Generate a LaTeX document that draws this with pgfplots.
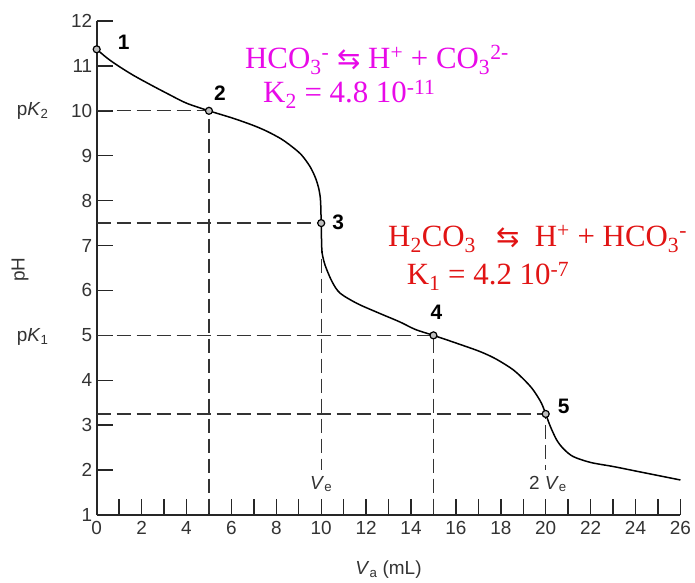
\documentclass[border=0pt]{standalone}
\usepackage{pgfplots}
\pgfplotsset{compat=1.18}
\usepackage{fontspec}
\setmainfont{Liberation Sans}
\newfontfamily\serif{Liberation Serif}
\newfontfamily\dejavu{DejaVu Sans}
\definecolor{mag}{RGB}{232,10,232}
\definecolor{redt}{RGB}{225,20,20}
\begin{document}
\begin{tikzpicture}
\begin{axis}[
  at={(0,0)}, anchor=south west,
  scale only axis, width=583.7bp, height=494bp,
  xmin=0, xmax=26, ymin=1, ymax=12,
  axis x line*=bottom, axis y line*=left,
  axis line style={-, line width=1.6bp, black!85},
  xtick={0,2,...,26}, minor xtick={1,3,...,25},
  ytick={1,...,12},
  xtick pos=bottom, ytick pos=left,
  tick align=inside,
  major tick length=16bp, minor tick length=16bp,
  tick style={line width=1.4bp, black!85},
  ticklabel style={font=\fontsize{19}{21}\selectfont, text=black!80},
  /pgf/number format/assume math mode=true,
  xticklabel style={yshift=-3bp},
  yticklabel style={xshift=-1bp},
  clip=false,
]
% dashed guide lines
\addplot[black!80, line width=1.3bp, dash pattern=on 14bp off 6bp] coordinates {(0,10)(5,10)(5,1)};
\addplot[black!80, line width=1.3bp, dash pattern=on 14bp off 6bp] coordinates {(0,7.5)(10,7.5)(10,2.0)};
\addplot[black!80, line width=1.3bp, dash pattern=on 14bp off 6bp] coordinates {(0,5)(15,5)(15,1)};
\addplot[black!80, line width=1.3bp, dash pattern=on 14bp off 6bp] coordinates {(0,3.25)(20,3.25)(20,2.0)};
% titration curve
\addplot[black, line width=1.5bp, smooth, tension=0.5] coordinates {
(0,11.37)(0.45,11.18)(0.9,11.02)(1.6,10.80)(2.4,10.58)(3.2,10.37)(4.0,10.17)
(5.0,10.00)(6.1,9.83)(7.0,9.67)(7.6,9.54)(8.2,9.38)(8.6,9.24)(9.1,9.03)
(9.5,8.76)(9.75,8.50)(9.9,8.25)(9.97,8.0)(10.0,7.5)(10.03,6.9)(10.12,6.65)
(10.25,6.46)(10.5,6.18)(10.84,5.94)(11.6,5.71)(12.6,5.49)(13.5,5.30)(14.2,5.13)
(15.0,5.0)(16.0,4.83)(17.07,4.64)(17.8,4.47)(18.56,4.23)(19.1,3.98)(19.45,3.78)
(19.8,3.50)(20.0,3.25)(20.2,2.98)(20.49,2.67)(20.8,2.47)(21.23,2.30)(22.0,2.17)
(23.0,2.08)(24.0,1.98)(25.0,1.88)(26.0,1.78)};
% marked points
\addplot[only marks, mark=*, mark size=3.5bp, mark options={fill=gray!50, draw=black, line width=1.2bp}]
  coordinates {(0,11.37)(5,10)(10,7.5)(15,5)(20,3.25)};
% point labels
\node[font=\bfseries\fontsize{21}{22}\selectfont] at (axis cs:0,11.37) [xshift=27bp, yshift=7bp] {1};
\node[font=\bfseries\fontsize{21}{22}\selectfont] at (axis cs:5,10) [xshift=11bp, yshift=18bp] {2};
\node[font=\bfseries\fontsize{21}{22}\selectfont] at (axis cs:10,7.5) [xshift=17bp, yshift=1bp] {3};
\node[font=\bfseries\fontsize{21}{22}\selectfont] at (axis cs:15,5) [xshift=3bp, yshift=23bp] {4};
\node[font=\bfseries\fontsize{21}{22}\selectfont] at (axis cs:20,3.25) [xshift=18bp, yshift=8bp] {5};
% Ve labels
\node[font=\fontsize{19}{21}\selectfont, text=black!80] at (axis cs:10,1.69) {\textit{V}\textsubscript{e}};
\node[font=\fontsize{19}{21}\selectfont, text=black!80] at (axis cs:20.1,1.69) {2 \textit{V}\textsubscript{e}};
\end{axis}
% axis labels
\node[font=\fontsize{19}{21}\selectfont, text=black!80] at (-64bp,404bp) {p\textit{K}\textsubscript{2}};
\node[font=\fontsize{19}{21}\selectfont, text=black!80] at (-64bp,178.3bp) {p\textit{K}\textsubscript{1}};
\node[font=\fontsize{19}{21}\selectfont, text=black!80, rotate=90] at (-76.7bp,245.5bp) {pH};
\node[font=\fontsize{19}{21}\selectfont, text=black!80] at (291.8bp,-55bp) {\textit{V}\textsubscript{a} (mL)};
% equations
\node[anchor=base west, inner sep=0, text=mag, font=\serif\fontsize{31}{34}\selectfont] at (148.3bp,446.5bp)
  {HCO\textsubscript{3}\textsuperscript{-} {\dejavu\fontsize{28}{30}\selectfont ⇆} H\textsuperscript{+} + CO\textsubscript{3}\textsuperscript{2-}};
\node[anchor=base west, inner sep=0, text=mag, font=\serif\fontsize{31}{34}\selectfont] at (166.3bp,412bp)
  {K\textsubscript{2} = 4.8 10\textsuperscript{-11}};
\node[anchor=base west, inner sep=0, text=redt, font=\serif\fontsize{31}{34}\selectfont] at (291.3bp,268.3bp)
  {H\textsubscript{2}CO\textsubscript{3}\hspace{0.4em} {\dejavu\fontsize{28}{30}\selectfont ⇆}\hspace{0.25em} H\textsuperscript{+} + HCO\textsubscript{3}\textsuperscript{-}};
\node[anchor=base west, inner sep=0, text=redt, font=\serif\fontsize{31}{34}\selectfont] at (310bp,230bp)
  {K\textsubscript{1} = 4.2 10\textsuperscript{-7}};
\pgfresetboundingbox
\path[use as bounding box] (-96.7bp,-68bp) rectangle (598.3bp,515bp);
\end{tikzpicture}
\end{document}
